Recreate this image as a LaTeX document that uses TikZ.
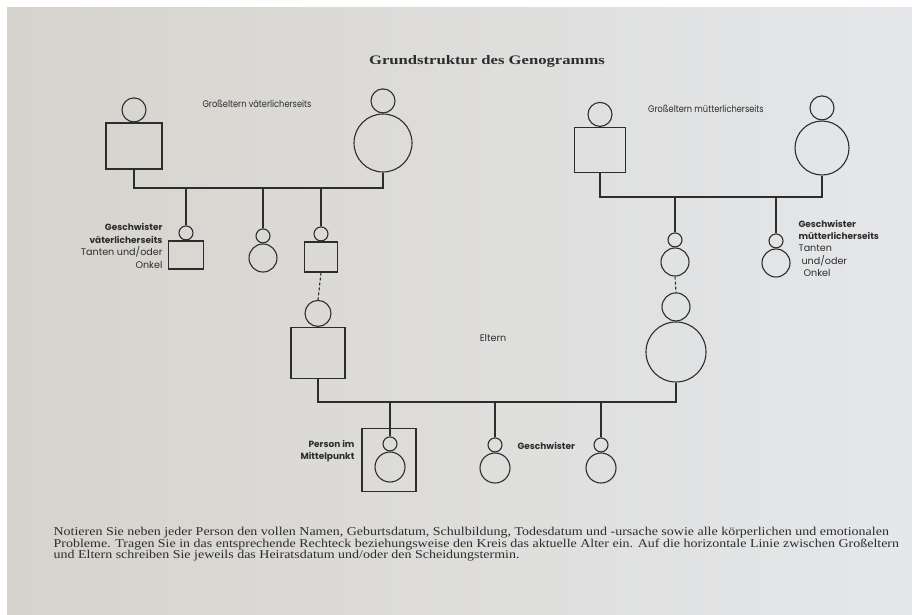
\documentclass[tikz,border=0pt]{standalone}
\usepackage{fontspec}
\setmainfont{Liberation Serif}
\newfontfamily\genofont{Poppins}
\usetikzlibrary{positioning}
\definecolor{pageL}{RGB}{214,211,204}
\definecolor{pageR}{RGB}{229,231,234}
\definecolor{ink}{RGB}{45,45,45}
\newcommand\lblreg{\genofont\fontsize{9.6}{12.5}\selectfont}
\newcommand\lblbold{\genofont\bfseries\fontsize{9}{12.5}\selectfont}
\begin{document}
\begin{tikzpicture}[
		x=1pt, y=-1pt,
		line width=1.1pt,
		text=ink
	]
	\tikzset{
		male/.style = {rectangle, draw=ink, inner sep=0pt},
		female/.style = {circle, draw=ink, inner sep=0pt},
		head/.style = {circle, draw=ink, inner sep=0pt, above=0pt of #1},
		lbl/.style = {font=\lblreg, inner sep=0pt},
		lblb/.style = {font=\lblbold, inner sep=0pt},
		bond/.style = {-, draw=ink},
		link/.style = {-, draw=ink, dashed, dash pattern=on 3pt off 2pt},
	}
	\useasboundingbox (0,0) rectangle (912,614);
	\fill[white] (0,0) rectangle (912,614);
	\shade[left color=pageL, right color=pageR] (7,7) rectangle (912,614);
	%
	\node[font=\bfseries\fontsize{13}{15}\selectfont, xscale=1.28] at (487,61) (title) {Grundstruktur des Genogramms};
	%
	\node[male, minimum width=56pt, minimum height=46pt] at (134,146) (pgf) {};
	\node[head=pgf, minimum size=24pt] (pgfh) {};
	\node[female, minimum size=58pt] at (383,143) (pgm) {};
	\node[head=pgm, minimum size=24pt] (pgmh) {};
	\node[lbl, xscale=0.86] at (257,104) (pgl) {Großeltern väterlicherseits};
	%
	\node[male, minimum width=35pt, minimum height=28pt] at (186,255) (psa) {};
	\node[head=psa, minimum size=14pt] (psah) {};
	\node[female, minimum size=28pt] at (263,258) (psb) {};
	\node[head=psb, minimum size=14pt] (psbh) {};
	\node[male, minimum width=33pt, minimum height=30pt] at (321,257) (psc) {};
	\node[head=psc, minimum size=14pt] (psch) {};
	\node[align=right, anchor=north east, inner sep=0pt] at (163,223) (psl) {%
		\lblbold Geschwister\\[0.5pt]
		\lblbold väterlicherseits\\[0.5pt]
		\lblreg Tanten und/oder\\[0.5pt]
		\lblreg Onkel};
	%
	\node[male, minimum width=51pt, minimum height=45pt] at (600,150) (mgf) {};
	\node[head=mgf, minimum size=24pt] (mgfh) {};
	\node[female, minimum size=54pt] at (822,148) (mgm) {};
	\node[head=mgm, minimum size=24pt] (mgmh) {};
	\node[lbl, xscale=0.86] at (706,109) (mgl) {Großeltern mütterlicherseits};
	%
	\node[female, minimum size=28pt] at (675,262) (msa) {};
	\node[head=msa, minimum size=14pt] (msah) {};
	\node[female, minimum size=28pt] at (776,263) (msb) {};
	\node[head=msb, minimum size=14pt] (msbh) {};
	\node[align=left, anchor=north west, inner sep=0pt] at (798,220) (msl) {%
		\lblbold Geschwister\\
		\lblbold mütterlicherseits\\
		\lblreg Tanten\\[0.5pt]
		\lblreg \hspace*{3pt}und/oder\\
		\lblreg \hspace*{5pt}Onkel};
	%
	\node[male, minimum width=54pt, minimum height=51pt] at (318,353) (fa) {};
	\node[head=fa, minimum size=26pt] (fah) {};
	\node[female, minimum size=60pt] at (676,352) (mo) {};
	\node[head=mo, minimum size=28pt] (moh) {};
	\node[lbl] at (493,338) (el) {Eltern};
	%
	\node[male, minimum width=54pt, minimum height=63pt] at (389,460) (frame) {};
	\node[female, minimum size=30pt] at (390,467) (ego) {};
	\node[head=ego, minimum size=14pt] (egoh) {};
	\node[female, minimum size=30pt] at (495,468) (sa) {};
	\node[head=sa, minimum size=14pt] (sah) {};
	\node[female, minimum size=30pt] at (601,468) (sb) {};
	\node[head=sb, minimum size=14pt] (sbh) {};
	\node[lblb, align=right, anchor=east] at (355,451) (egol) {Person im\\Mittelpunkt};
	\node[lblb, anchor=west] at (517,446) (sl) {Geschwister};
	%
	\coordinate (pline) at (0,188);
	\coordinate (mline) at (0,197);
	\coordinate (eline) at (0,402);
	\draw[bond] (pgf.south) -- (pgf.south |- pline) -- (pgm.south |- pline) -- (pgm.south);
	\draw[bond] (psah.north |- pline) -- (psah.north);
	\draw[bond] (psbh.north |- pline) -- (psbh.north);
	\draw[bond] (psch.north |- pline) -- (psch.north);
	%
	\draw[bond] (mgf.south) -- (mgf.south |- mline) -- (mgm.south |- mline) -- (mgm.south);
	\draw[bond] (msah.north |- mline) -- (msah.north);
	\draw[bond] (msbh.north |- mline) -- (msbh.north);
	%
	\draw[link] (psc.south) -- (fah.north);
	\draw[link] (msa.south) -- (moh.north);
	%
	\draw[bond] (fa.south) -- (fa.south |- eline) -- (mo.south |- eline) -- (mo.south);
	\draw[bond] (egoh.north |- eline) -- (egoh.north);
	\draw[bond] (sah.north |- eline) -- (sah.north);
	\draw[bond] (sbh.north |- eline) -- (sbh.north);
	%
	\node[align=left, anchor=north west, font=\fontsize{12}{11.5}\selectfont, xscale=1.165, inner sep=0pt] at (53,527) (note) {%
		Notieren Sie neben jeder Person den vollen Namen, Geburtsdatum, Schulbildung, Todesdatum und -ursache sowie alle körperlichen und emotionalen\\
		Probleme. Tragen Sie in das entsprechende Rechteck beziehungsweise den Kreis das aktuelle Alter ein. Auf die horizontale Linie zwischen Großeltern\\
		und Eltern schreiben Sie jeweils das Heiratsdatum und/oder den Scheidungstermin.};
\end{tikzpicture}
\end{document}
